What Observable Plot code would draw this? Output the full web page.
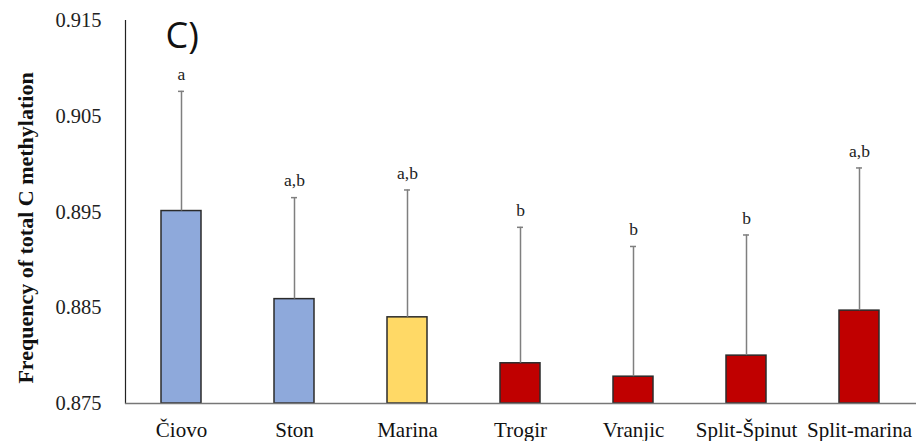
<!DOCTYPE html>
<html>
<head>
<meta charset="utf-8">
<script src="https://cdn.jsdelivr.net/npm/d3@7"></script>
<script src="https://cdn.jsdelivr.net/npm/@observablehq/plot@0.6"></script>
<style>
  html, body { margin: 0; padding: 0; background: #fff; }
  #chart svg { display: block; }
  #chart svg text { font-family: "Liberation Serif", "Times New Roman", serif; }
  #chart svg .sans text, #chart svg text.sans { font-family: "Open Sans", "Liberation Sans", sans-serif; }
</style>
</head>
<body>
<div id="chart"></div>
<script>
const categories = ["Čiovo", "Ston", "Marina", "Trogir", "Vranjic", "Split-Špinut", "Split-marina"];
const means = [0.8951, 0.8859, 0.8840, 0.8792, 0.8778, 0.8800, 0.8847];
const upper = [0.9076, 0.8965, 0.8973, 0.8934, 0.8914, 0.8926, 0.8996];
const letters = ["a", "a,b", "a,b", "b", "b", "b", "a,b"];
const groups = ["blue", "blue", "yellow", "red", "red", "red", "red"];
const yTicks = [0.875, 0.885, 0.895, 0.905, 0.915];
const colorMap = {blue: "#8EA9DB", yellow: "#FFD966", red: "#C00000"};

const data = categories.map((c, i) => ({
  site: c, mean: means[i], upper: upper[i], letter: letters[i], group: groups[i]
}));

const serif = "Liberation Serif";

const chart = Plot.plot({
  width: 921,
  height: 441,
  marginLeft: 125,
  marginRight: 5,
  marginTop: 20,
  marginBottom: 38,
  x: {domain: categories, paddingInner: 0.646, paddingOuter: 0.32, align: 0.5},
  y: {domain: [0.875, 0.915]},
  marks: [
    Plot.barY(data, {x: "site", y1: 0.875, y2: "mean", fill: d => colorMap[d.group], stroke: "#2b2b2b", strokeWidth: 1.5}),
    Plot.ruleX(data, {x: "site", y1: "mean", y2: "upper", stroke: "#7f7f7f", strokeWidth: 1.5}),
    Plot.tickY(data, {x: "site", y: "upper", stroke: "#7f7f7f", strokeWidth: 1.5, insetLeft: 17, insetRight: 17}),
    Plot.text(data, {x: "site", y: "upper", text: "letter", dy: -17, fontSize: 17.5, fill: "#222", fontFamily: serif}),
    Plot.frame({anchor: "left", stroke: "#222", strokeWidth: 1.2}),
    Plot.ruleY([0.875], {stroke: "#777", strokeWidth: 1.5}),
    Plot.axisY({ticks: yTicks, tickFormat: d3.format(".3f"), tickSize: 0, tickPadding: 24, fontSize: 20.5, label: null, fill: "#222", fontFamily: serif}),
    Plot.axisX({tickSize: 0, tickPadding: 19, fontSize: 21, label: null, fill: "#111", fontFamily: serif}),
    Plot.text(["Frequency of total C methylation"], {frameAnchor: "left", textAnchor: "middle", rotate: -90, dx: -100, dy: 16, fontSize: 22, fontWeight: "bold", fill: "#111", fontFamily: serif}),
    Plot.text(["C)"], {frameAnchor: "top-left", dx: 40, dy: 2, fontSize: 36, fill: "#111", fontFamily: "Open Sans", className: "sans"})
  ]
});
document.getElementById("chart").appendChild(chart);
</script>
</body>
</html>
